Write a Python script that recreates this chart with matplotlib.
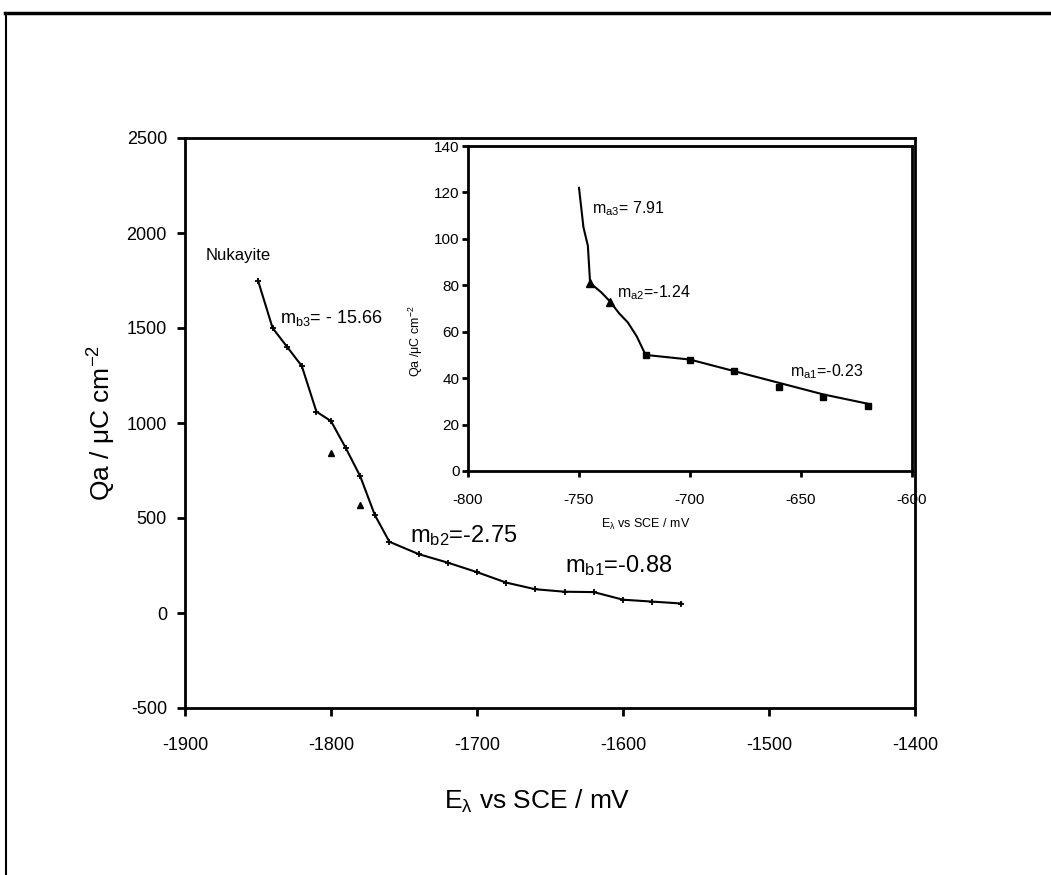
import matplotlib
matplotlib.use("Agg")
import matplotlib.pyplot as plt
from matplotlib.lines import Line2D

plt.rcParams['font.family'] = ['Liberation Sans', 'DejaVu Sans']
plt.rcParams['axes.unicode_minus'] = False
plt.rcParams['mathtext.fontset'] = 'custom'
plt.rcParams['mathtext.rm'] = 'Liberation Sans'
plt.rcParams['mathtext.it'] = 'Liberation Sans'

# main plot data
main_x = [-1850, -1840, -1830, -1820, -1810, -1800, -1790, -1780, -1770, -1760,
          -1740, -1720, -1700, -1680, -1660, -1640, -1620, -1600, -1580, -1560]
main_y = [1750, 1500, 1400, 1300, 1060, 1010, 870, 720, 516, 375,
          310, 265, 215, 160, 125, 112, 110, 70, 60, 50]
main_off_x = [-1800, -1780]
main_off_y = [840, 570]

main_xticks = [-1900, -1800, -1700, -1600, -1500, -1400]
main_yticks = [-500, 0, 500, 1000, 1500, 2000, 2500]

# inset data
ins_x = [-750, -748, -746, -745, -740, -736, -732, -728, -724, -720,
         -700, -680, -660, -640, -620]
ins_y = [122, 105, 97, 81, 77, 73, 68, 64, 58, 50,
         48, 43, 38, 33, 29]
ins_tri_x = [-745, -736]
ins_tri_y = [81, 73]
ins_sq_x = [-720, -700, -680, -660, -640, -620]
ins_sq_y = [50, 48, 43, 36, 32, 28]

ins_xticks = [-800, -750, -700, -650, -600]
ins_yticks = [0, 20, 40, 60, 80, 100, 120, 140]

fig = plt.figure(figsize=(10.51, 8.75), dpi=100)

# outer frame (top and left only)
fig.add_artist(Line2D([0.005, 1.0], [1 - 13 / 875, 1 - 13 / 875], color='black', lw=2.5,
                      transform=fig.transFigure))
fig.add_artist(Line2D([6 / 1051, 6 / 1051], [0, 1 - 13 / 875], color='black', lw=1.5,
                      transform=fig.transFigure))

ax = fig.add_axes([185 / 1051, 1 - 708 / 875, 730 / 1051, 570 / 875])
ax.plot(main_x, main_y, color='black', lw=1.5, marker='+', ms=5, mew=1.3)
ax.plot(main_off_x, main_off_y, ls='none', color='black', marker='^', ms=5)
ax.set_xlim(-1900, -1400)
ax.set_ylim(-500, 2500)
ax.set_xticks(main_xticks)
ax.set_yticks(main_yticks)
ax.tick_params(direction='out', length=6, width=2, labelsize=13, pad=7)
ax.tick_params(axis='x', pad=15)
for s in ax.spines.values():
    s.set_linewidth(2)
ax.set_xlabel(r'E$_{\lambda}$ vs SCE / mV', fontsize=19)
ax.xaxis.set_label_coords(0.482, -0.14)
ax.set_ylabel(r'Qa / $\mu$C cm$^{-2}$', fontsize=19)
ax.yaxis.set_label_coords(-0.092, 0.5)

ax.text(-1886, 1884, 'Nukayite', fontsize=12, va='center')
ax.text(-1835, 1553, r'm$_{b3}$= - 15.66', fontsize=13, va='center')
ax.text(-1746, 410, r'm$_{b2}$=-2.75', fontsize=17, va='center')
ax.text(-1640, 250, r'm$_{b1}$=-0.88', fontsize=17, va='center')

ins = fig.add_axes([468 / 1051, 1 - 471 / 875, 444 / 1051, 325 / 875])
ins.set_facecolor('white')
ins.plot(ins_x, ins_y, color='black', lw=1.5)
ins.plot(ins_tri_x, ins_tri_y, ls='none', color='black', marker='^', ms=6)
ins.plot(ins_sq_x, ins_sq_y, ls='none', color='black', marker='s', ms=4)
ins.set_xlim(-800, -600)
ins.set_ylim(0, 140)
ins.set_xticks(ins_xticks)
ins.set_yticks(ins_yticks)
ins.tick_params(direction='out', length=4, width=2, labelsize=11, pad=2)
ins.tick_params(axis='x', pad=12)
for s in ins.spines.values():
    s.set_linewidth(2)
ins.set_xlabel(r'E$_{\lambda}$ vs SCE / mV', fontsize=9)
ins.xaxis.set_label_coords(0.40, -0.14)
ins.set_ylabel(r'Qa /$\mu$C cm$^{-2}$', fontsize=9)
ins.yaxis.set_label_coords(-0.097, 0.40)

ins.text(-744, 113, r'm$_{a3}$= 7.91', fontsize=11.5, va='center')
ins.text(-733, 77, r'm$_{a2}$=-1.24', fontsize=11.5, va='center')
ins.text(-655, 43, r'm$_{a1}$=-0.23', fontsize=11.5, va='center')

fig.savefig('out.png', dpi=100)
